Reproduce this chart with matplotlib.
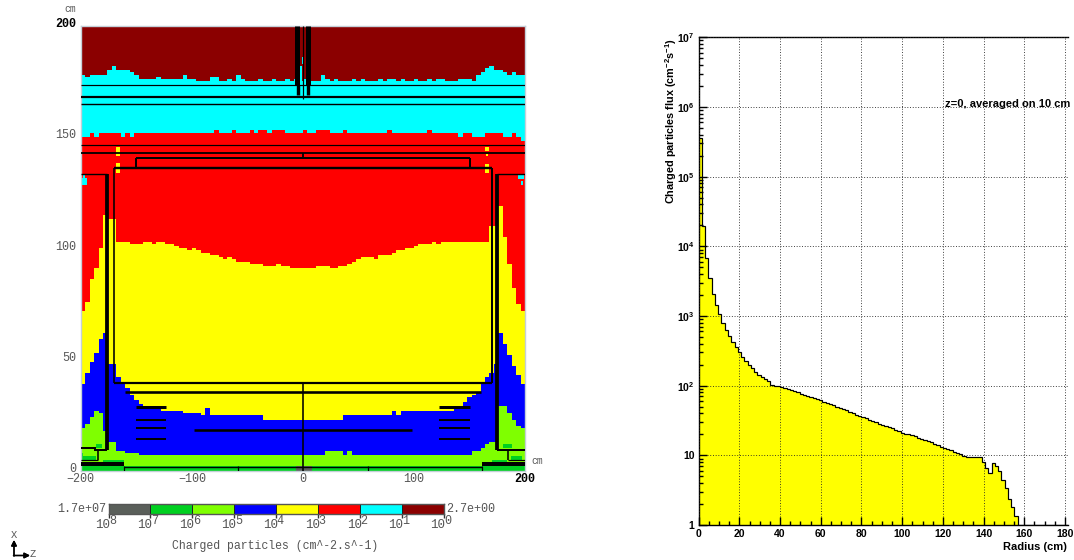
import numpy as np
import matplotlib
matplotlib.use('Agg')
import matplotlib.pyplot as plt
from matplotlib.colors import ListedColormap
from matplotlib.ticker import LogLocator, NullFormatter
from matplotlib.transforms import ScaledTranslation

W, H = 1074, 560
MONO = 'Liberation Mono'
SANS = 'Liberation Sans'
GREY = '#555555'

# left map: one value per 4 cm column, z = -198 ... 198, heights in cm
z_col = list(range(-198, 199, 4))
darkred_floor = [178,177,178,178,178,178,180,182,180,180,180,179,178,176,176,176,176,177,176,176,
                 176,176,176,178,176,176,175,175,175,177,177,175,175,176,175,178,176,175,175,175,
                 176,175,175,176,175,175,176,175,176,175,176,175,175,175,178,176,175,176,175,175,
                 175,176,175,176,175,175,175,176,175,176,176,175,176,175,175,176,175,175,176,175,
                 176,176,175,175,175,176,176,176,175,178,179,181,182,180,180,179,178,179,178,178]
cyan_floor = [150,150,152,150,152,152,152,152,152,150,152,150,152,152,152,152,152,152,152,152,
              152,152,152,152,152,152,152,152,152,152,153,152,152,152,153,152,152,152,153,152,
              153,153,152,153,153,153,152,152,152,152,153,152,152,153,153,153,152,152,152,153,
              152,152,152,152,152,152,152,152,152,153,152,152,152,152,152,152,152,152,153,152,
              152,152,152,152,152,150,152,152,150,150,150,152,152,152,152,150,150,152,150,148]
red_floor = [72,76,86,91,100,115,113,113,103,103,103,102,102,102,103,103,102,103,103,102,
             102,101,100,100,99,100,99,98,98,97,97,96,95,96,95,94,94,94,93,93,
             93,92,92,92,93,92,92,91,91,91,91,91,91,92,92,92,91,91,92,92,
             93,94,95,96,96,96,95,97,97,97,98,99,99,100,100,101,102,102,102,103,
             102,103,103,103,103,103,103,103,103,103,103,103,110,110,119,105,93,82,75,72]
yellow_floor = [39,44,49,53,59,62,48,48,42,39,37,34,32,30,29,28,28,28,27,27,
                27,27,27,26,26,26,26,25,28,25,25,25,25,25,25,25,25,25,25,25,
                25,23,23,23,23,23,23,23,23,23,23,23,23,23,23,23,23,23,23,25,
                25,25,25,25,25,25,25,25,25,25,27,25,27,27,27,27,27,27,27,27,
                27,27,27,27,28,28,31,33,34,35,39,42,44,48,62,57,52,47,43,39]
blue_floor = [19,21,24,27,26,18,13,13,9,8.5,8,8,8,7,7,7,6.5,6.5,6.5,6.5,
              6.5,6.5,6.5,6.5,6.5,6.5,6.5,6.5,6.5,6.5,6.5,6.5,6.5,6.5,6.5,6.5,6.5,6.5,6.5,6.5,
              6.5,6.5,6.5,6.5,6.5,6.5,6.5,6.5,6.5,6.5,6.5,6.5,6.5,6.5,6.5,8.5,8.5,8.5,8.5,6.5,
              8.5,6.5,6.5,6.5,6.5,6.5,6.5,6.5,6.5,6.5,6.5,6.5,6.5,6.5,6.5,6.5,6.5,6.5,6.5,6.5,
              6.5,6.5,6.5,6.5,6.5,6.5,6.5,6.5,8.5,9,10,12,13,13,29,29,26,23,20,19]
lime_floor = [2] * 100

# colour scale, lowest flux first in the map levels
level_colors = ['#5a5f5a', '#00d020', '#7fff00', '#0000ff', '#ffff00', '#ff0000', '#00ffff', '#8b0000']
scale_labels = ['8', '7', '6', '5', '4', '3', '2', '1', '0']

# small patches that do not follow the bands: z0, z1, y0, y1, level
patches = [(-200, -194, 128.5, 131.7, 6), (-198, -196, 131.7, 133, 6), (194, 199, 131, 133, 6), (196, 198, 128.5, 130, 6),
           (-168.5, -164.5, 141.5, 145.5, 4), (-168, -165, 134, 138.5, 4),
           (164, 168, 143.7, 145.5, 4), (164, 168, 134, 138, 4), (165, 167, 141.5, 142.5, 4),
           (-186, -181, 10, 12, 1), (180, 188, 10, 12, 1), (-6, 8, 0, 2, 0),
           (-200, -186, 4.8, 6.5, 1), (-200, -198, 6.5, 8, 1), (-180, -161, 3.9, 5, 1),
           (170, 184, 4, 5, 1), (187, 197, 4.8, 6.5, 1),
           (-3, -1, 172, 182, 6), (-1, 1, 183, 186, 6)]

# detector outline, cm: z0, z1, y0, y1, line width px
outline = [(-200, 200, 173.5, 173.5, 1.2), (-200, 200, 168, 168, 2.2), (-200, 200, 165, 165, 1.4),
           (-200, 200, 146.4, 146.4, 1.2), (-200, 200, 143, 143, 1.8), (0, 0, 140.5, 143, 1.8),
           (-150.5, 150.5, 140.5, 140.5, 2), (-150.5, -150.5, 136, 140.5, 2), (150.5, 150.5, 136, 140.5, 2),
           (-170, 170, 136, 136, 2.4), (-170, -170, 39.5, 136, 1.6), (170, 170, 39.5, 136, 2),
           (-170, 170, 39.5, 39.5, 2.2), (-160, 160, 35.3, 35.3, 2.6),
           (-176, -176, 9.3, 133.5, 3.8), (175, 175, 9.3, 133.5, 3.8),
           (-200, -176, 133.5, 133.5, 1.4), (175, 200, 133.5, 133.5, 1.4),
           (-200, -186, 10, 10, 2), (-188, -176, 9.3, 9.3, 2), (175, 200, 9.3, 9.3, 2),
           (-184.5, -184.5, 4.8, 9.3, 1.6), (-200, -184.5, 4.8, 4.8, 1.2),
           (185, 185, 4.8, 9.3, 1.6), (185, 200, 4.8, 4.8, 1.2),
           (-200, -161, 3, 3, 4), (161, 200, 3, 3, 4), (-161, 161, 1.8, 1.8, 1.4),
           (-161, -161, 0, 2, 1.2), (161, 161, 0, 2, 1.2), (-58.5, -58.5, 0, 2, 1.2), (58.5, 58.5, 0, 2, 1.2),
           (0, 0, 0, 39.5, 1.6),
           (-150.5, -123, 28.5, 28.5, 3), (123, 150.5, 28.5, 28.5, 3),
           (-150.5, -123, 22.8, 22.8, 2), (123, 150.5, 22.8, 22.8, 2),
           (-150.5, -123, 19, 19, 2), (123, 150.5, 19, 19, 2),
           (-150.5, -123, 14.4, 14.4, 2), (123, 150.5, 14.4, 14.4, 2),
           (-98, 98, 18.2, 18.2, 2.6),
           (-5, -5, 173.5, 200, 5), (5, 5, 173.5, 200, 5),
           (-4.5, -4.5, 169, 173.5, 3.4), (4.5, 4.5, 169, 173.5, 3.4), (0, 0, 167, 200, 1.2)]

# right histogram: flux per 1.6 cm bin from r = 0
flux = [3.6e5, 1.95e4, 6800, 3500, 2100, 1450, 1070, 790, 630, 515,
        427, 357, 303, 260, 224, 197, 178, 158, 143, 133,
        124, 116, 103, 100, 98, 95, 92, 89, 86, 83,
        80, 77, 74, 71.5, 69, 66, 64, 61.5, 59, 56.5,
        54, 52, 50, 48, 46, 44, 42, 40, 38.5, 37,
        35, 34, 32.5, 31, 30, 28.5, 27.5, 26.5, 25.5, 24.5,
        23, 22, 21, 20.5, 20, 19.5, 19, 18, 17.3, 16.5,
        16, 15.3, 14.6, 14, 13.3, 12.6, 12.2, 11.8, 11.2, 10.8,
        10.3, 9.9, 9.6, 9.4, 9.4, 9.4, 9.6, 8.1, 6.5, 5.6,
        7.7, 7.1, 6.0, 4.4, 3.4, 2.36, 1.81, 1.36, 1, 1,
        1, 1, 1, 1, 1, 1, 1, 1, 1, 1, 1, 1, 1, 1]
bin_width = 1.6
flux_ticks = [1, 10, 100, 1e3, 1e4, 1e5, 1e6, 1e7]
flux_labels = ['1', '10', '10$^{2}$', '10$^{3}$', '10$^{4}$', '10$^{5}$', '10$^{6}$', '10$^{7}$']


def px_axes(x0, y0, x1, y1):
    return fig.add_axes([x0 / W, 1 - y1 / H, (x1 - x0) / W, (y1 - y0) / H])


def lw(px):
    return px * 72 / 100


plt.rcParams['font.family'] = MONO
plt.rcParams['mathtext.default'] = 'regular'
fig = plt.figure(figsize=(W / 100, H / 100), dpi=100)

# map
ax = px_axes(80.8, 25.7, 525, 470.7)
cells = np.zeros((200, len(z_col)), dtype=int)
y_row = np.arange(200) + 0.5
for i in range(len(z_col)):
    bounds = [lime_floor[i], blue_floor[i], yellow_floor[i], red_floor[i], cyan_floor[i], darkred_floor[i]]
    cells[:, i] = 1 + np.searchsorted(bounds, y_row)
z_edges = np.arange(-200, 201, 4)
ax.pcolormesh(z_edges, np.arange(201), cells, cmap=ListedColormap(level_colors), vmin=-0.5, vmax=7.5, rasterized=True)
for z0, z1, y0, y1, lev in patches:
    ax.fill_between([z0, z1], y0, y1, color=level_colors[lev], lw=0, zorder=2)
for z0, z1, y0, y1, w in outline:
    ax.plot([z0, z1], [y0, y1], color='black', lw=lw(w), solid_capstyle='butt', zorder=3)
ax.set_xlim(-200, 200)
ax.set_ylim(0, 200)
for s in ax.spines.values():
    s.set_color('#c4d0d8')
    s.set_linewidth(1)
ax.set_xticks([-200, -100, 0, 100, 200])
ax.set_xticklabels(['\u2212200', '\u2212100', '0', '100', '200'], color=GREY, fontsize=8.5)
ax.set_yticks([0, 50, 100, 150, 200])
ax.set_yticklabels(['0', '50', '100', '150', '200'], color=GREY, fontsize=8.5)
ax.get_xticklabels()[-1].set_color('black')
ax.get_xticklabels()[-1].set_fontweight('bold')
ax.get_yticklabels()[-1].set_color('black')
ax.get_yticklabels()[-1].set_fontweight('bold')
ax.tick_params(length=0, pad=3)
ax.tick_params(axis='x', pad=1.5)
up2 = ScaledTranslation(0, 3 / 100, fig.dpi_scale_trans)
for lab in ax.get_yticklabels():
    lab.set_transform(lab.get_transform() + up2)
fig.text(70 / W, 1 - 9 / H, 'cm', color=GREY, fontsize=7, ha='center', va='center')
fig.text(537 / W, 1 - 461 / H, 'cm', color=GREY, fontsize=7, ha='center', va='center')

# colour scale
cb = px_axes(108.5, 504, 444, 513.5)
cb.pcolormesh(np.arange(9), [0, 1], np.arange(8).reshape(1, 8), cmap=ListedColormap(level_colors), vmin=-0.5, vmax=7.5)
cb.set_xlim(0, 8)
cb.set_yticks([])
cb.set_xticks(range(9))
cb.set_xticklabels([])
cb.tick_params(axis='x', length=3, width=1, color='#333333')
for k, s in enumerate(scale_labels):
    cb.annotate('10', xy=(k, 0), xycoords=('data', 'axes fraction'), xytext=(1.5, -12), textcoords='offset pixels',
                color=GREY, fontsize=9, ha='right', va='center', annotation_clip=False)
    cb.annotate(s, xy=(k, 0), xycoords=('data', 'axes fraction'), xytext=(0.5, -7), textcoords='offset pixels',
                color=GREY, fontsize=8.5, ha='left', va='center', annotation_clip=False)
for k in range(1, 8):
    cb.axvline(k, color='#222222', lw=lw(1))
for s in cb.spines.values():
    s.set_color('#555555')
    s.set_linewidth(1)
fig.text(106 / W, 1 - 508.5 / H, '1.7e+07', color=GREY, fontsize=8.5, ha='right', va='center')
fig.text(446 / W, 1 - 508.5 / H, '2.7e+00', color=GREY, fontsize=8.5, ha='left', va='center')
fig.text(275 / W, 1 - 546 / H, 'Charged particles (cm^-2.s^-1)', color=GREY, fontsize=8.3, ha='center', va='center')

# little xz axes marker
fig.text(14 / W, 1 - 535 / H, 'X', color=GREY, fontsize=7.5, ha='center', va='center')
fig.text(33 / W, 1 - 554 / H, 'Z', color=GREY, fontsize=7.5, ha='center', va='center')
fig.add_artist(plt.annotate('', xy=(14 / W, 1 - 540 / H), xytext=(14 / W, 1 - 556 / H), xycoords='figure fraction',
                            textcoords='figure fraction', arrowprops=dict(arrowstyle='-|>', color='black', lw=1, shrinkA=0, shrinkB=0, mutation_scale=8)))
fig.add_artist(plt.annotate('', xy=(30 / W, 1 - 555.5 / H), xytext=(13.5 / W, 1 - 555.5 / H), xycoords='figure fraction',
                            textcoords='figure fraction', arrowprops=dict(arrowstyle='-|>', color='black', lw=1, shrinkA=0, shrinkB=0, mutation_scale=8)))

# histogram
ax2 = px_axes(698.7, 37.3, 1068, 525)
edges = np.arange(len(flux) + 1) * bin_width
ax2.stairs(flux, edges, baseline=1, fill=True, color='#ffff00', lw=0, zorder=2)
ax2.stairs(flux, edges, baseline=None, color='black', lw=lw(1.2), zorder=3)
ax2.set_yscale('log')
ax2.set_xlim(0, 181.5)
ax2.set_ylim(1, 1e7)
ax2.set_xticks(range(0, 181, 20))
ax2.set_xticks(range(0, 181, 5), minor=True)
ax2.set_yticks(flux_ticks)
ax2.set_yticklabels(flux_labels)
ax2.yaxis.set_minor_locator(LogLocator(base=10, subs=range(2, 10), numticks=20))
ax2.yaxis.set_minor_formatter(NullFormatter())
ax2.grid(True, which='major', color='#222222', lw=lw(0.9), ls=(0, (1, 2)), zorder=4)
ax2.set_axisbelow(False)
for lab in ax2.get_xticklabels() + ax2.get_yticklabels():
    lab.set_family(SANS)
    lab.set_fontweight('bold')
    lab.set_fontsize(7.5)
ax2.tick_params(which='major', direction='in', length=6, width=1, pad=3)
ax2.tick_params(which='minor', direction='in', length=3, width=1)
for s in ax2.spines.values():
    s.set_linewidth(1)
ax2.spines['right'].set_visible(False)
fig.text(1067 / W, 1 - 547 / H, 'Radius (cm)', family=SANS, fontweight='bold', fontsize=8, ha='right', va='center')
fig.text(671 / W, 1 - 121 / H, 'Charged particles flux (cm$^{-2}$s$^{-1}$)', family=SANS, fontweight='bold', fontsize=7.8,
         rotation=90, ha='center', va='center')
fig.text(945 / W, 1 - 104 / H, 'z=0, averaged on 10 cm', family=SANS, fontweight='bold', fontsize=8, ha='left', va='center')

fig.savefig('out.png', dpi=100)
